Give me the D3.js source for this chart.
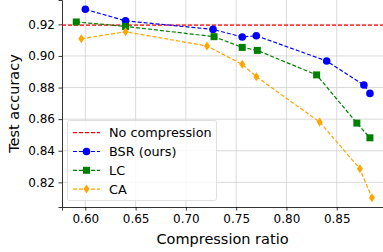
<!DOCTYPE html>
<html>
<head>
<meta charset="utf-8">
<script src="https://cdn.jsdelivr.net/npm/d3@7"></script>
<style>
body { margin: 0; background: #fff; }
text { font-family: "DejaVu Sans", sans-serif; }
</style>
</head>
<body>
<div id="chart"></div>
<script>
// data
var bsrX = [0.600, 0.640, 0.727, 0.756, 0.770, 0.840, 0.877, 0.883];
var bsrY = [0.9295, 0.9222, 0.9168, 0.9120, 0.9128, 0.8968, 0.8816, 0.8763];
var lcX = [0.591, 0.640, 0.728, 0.756, 0.771, 0.830, 0.870, 0.883];
var lcY = [0.9215, 0.9187, 0.9122, 0.9054, 0.9035, 0.8880, 0.8575, 0.8482];
var caX = [0.596, 0.640, 0.721, 0.756, 0.770, 0.833, 0.873, 0.885];
var caY = [0.9109, 0.9153, 0.9063, 0.8947, 0.8869, 0.8582, 0.8286, 0.8102];
var baseline = 0.9195;
var xTicks = [0.60, 0.65, 0.70, 0.75, 0.80, 0.85];
var yTicks = [0.82, 0.84, 0.86, 0.88, 0.90, 0.92];

var svg = d3.select("#chart").append("svg")
  .attr("width", 383)
  .attr("height", 252);

var mLeft = 62, mRight = 383, mTop = 0, mBottom = 207;

var x = d3.scaleLinear().domain([0.5768, 0.896]).range([mLeft, mRight]);
var y = d3.scaleLinear().domain([0.8044, 0.9354]).range([mBottom, mTop]);

// grid
svg.selectAll(".gx").data(xTicks).enter().append("line")
  .attr("x1", function(d) { return x(d); })
  .attr("x2", function(d) { return x(d); })
  .attr("y1", mTop).attr("y2", mBottom)
  .style("stroke", "#d0d0d0").style("stroke-width", 0.8);
svg.selectAll(".gy").data(yTicks).enter().append("line")
  .attr("x1", mLeft).attr("x2", mRight)
  .attr("y1", function(d) { return y(d); })
  .attr("y2", function(d) { return y(d); })
  .style("stroke", "#d0d0d0").style("stroke-width", 0.8);

// axes
var xAxis = svg.append("g")
  .attr("transform", "translate(0," + mBottom + ")")
  .call(d3.axisBottom(x).tickValues(xTicks).tickFormat(d3.format(".2f")).tickSize(3.5).tickPadding(3.5));
var yAxis = svg.append("g")
  .attr("transform", "translate(" + mLeft + ",0)")
  .call(d3.axisLeft(y).tickValues(yTicks).tickFormat(d3.format(".2f")).tickSize(3.5).tickPadding(3.5));
[xAxis, yAxis].forEach(function(a) {
  a.selectAll("text").style("font-size", "12px").style("fill", "#000");
  a.selectAll("line").style("stroke", "#000").style("stroke-width", 0.8);
  a.select(".domain").style("stroke", "#000").style("stroke-width", 0.8);
});

svg.append("text")
  .attr("x", (mLeft + mRight) / 2).attr("y", 244)
  .attr("text-anchor", "middle")
  .style("font-size", "14.5px")
  .text("Compression ratio");
svg.append("text")
  .attr("transform", "translate(19," + (mTop + mBottom) / 2 + ") rotate(-90)")
  .attr("text-anchor", "middle")
  .style("font-size", "14.5px")
  .text("Test accuracy");

svg.append("clipPath").attr("id", "clip").append("rect")
  .attr("x", mLeft).attr("y", mTop).attr("width", mRight - mLeft).attr("height", mBottom - mTop);
var plot = svg.append("g").attr("clip-path", "url(#clip)");

// baseline
plot.append("line")
  .attr("x1", mLeft).attr("x2", mRight)
  .attr("y1", y(baseline)).attr("y2", y(baseline))
  .style("stroke", "#ff0000").style("stroke-width", 1.2)
  .style("stroke-dasharray", "4,2");

var line = d3.line()
  .x(function(d) { return x(d[0]); })
  .y(function(d) { return y(d[1]); });

var series = [
  {name: "BSR (ours)", xs: bsrX, ys: bsrY, color: "#0000ff", marker: "circle"},
  {name: "LC", xs: lcX, ys: lcY, color: "#008000", marker: "square"},
  {name: "CA", xs: caX, ys: caY, color: "#ffa500", marker: "diamond"}
];

function drawMarker(g, m, cx, cy, color) {
  if (m === "circle") {
    g.append("circle").attr("cx", cx).attr("cy", cy).attr("r", 3.8).style("fill", color);
  } else if (m === "square") {
    g.append("rect").attr("x", cx - 3.5).attr("y", cy - 3.5).attr("width", 7).attr("height", 7).style("fill", color);
  } else {
    g.append("path")
      .attr("d", "M" + cx + "," + (cy - 4.5) + "L" + (cx + 3) + "," + cy + "L" + cx + "," + (cy + 4.5) + "L" + (cx - 3) + "," + cy + "Z")
      .style("fill", color);
  }
}

series.forEach(function(s) {
  var pts = s.xs.map(function(v, i) { return [v, s.ys[i]]; });
  plot.append("path").datum(pts)
    .attr("d", line)
    .style("fill", "none")
    .style("stroke", s.color).style("stroke-width", 1.2)
    .style("stroke-dasharray", "4,2");
  pts.forEach(function(p) {
    drawMarker(plot, s.marker, x(p[0]), y(p[1]), s.color);
  });
});

// legend
var lg = svg.append("g");
lg.append("rect")
  .attr("x", 67.5).attr("y", 120.5).attr("width", 149).attr("height", 80)
  .attr("rx", 2)
  .style("fill", "#fff").style("fill-opacity", 0.8)
  .style("stroke", "#d8d8d8").style("stroke-width", 0.8);
var entries = [{name: "No compression", color: "#ff0000", marker: null}].concat(series);
entries.forEach(function(e, i) {
  var ey = 132.7 + i * 18.8;
  lg.append("line").attr("x1", 73).attr("x2", 100).attr("y1", ey).attr("y2", ey)
    .style("stroke", e.color).style("stroke-width", 1.2).style("stroke-dasharray", "4,2");
  if (e.marker) drawMarker(lg, e.marker, 86.5, ey, e.color);
  lg.append("text").attr("x", 109).attr("y", ey + 4.5)
    .style("font-size", "12.8px").text(e.name);
});
</script>
</body>
</html>
